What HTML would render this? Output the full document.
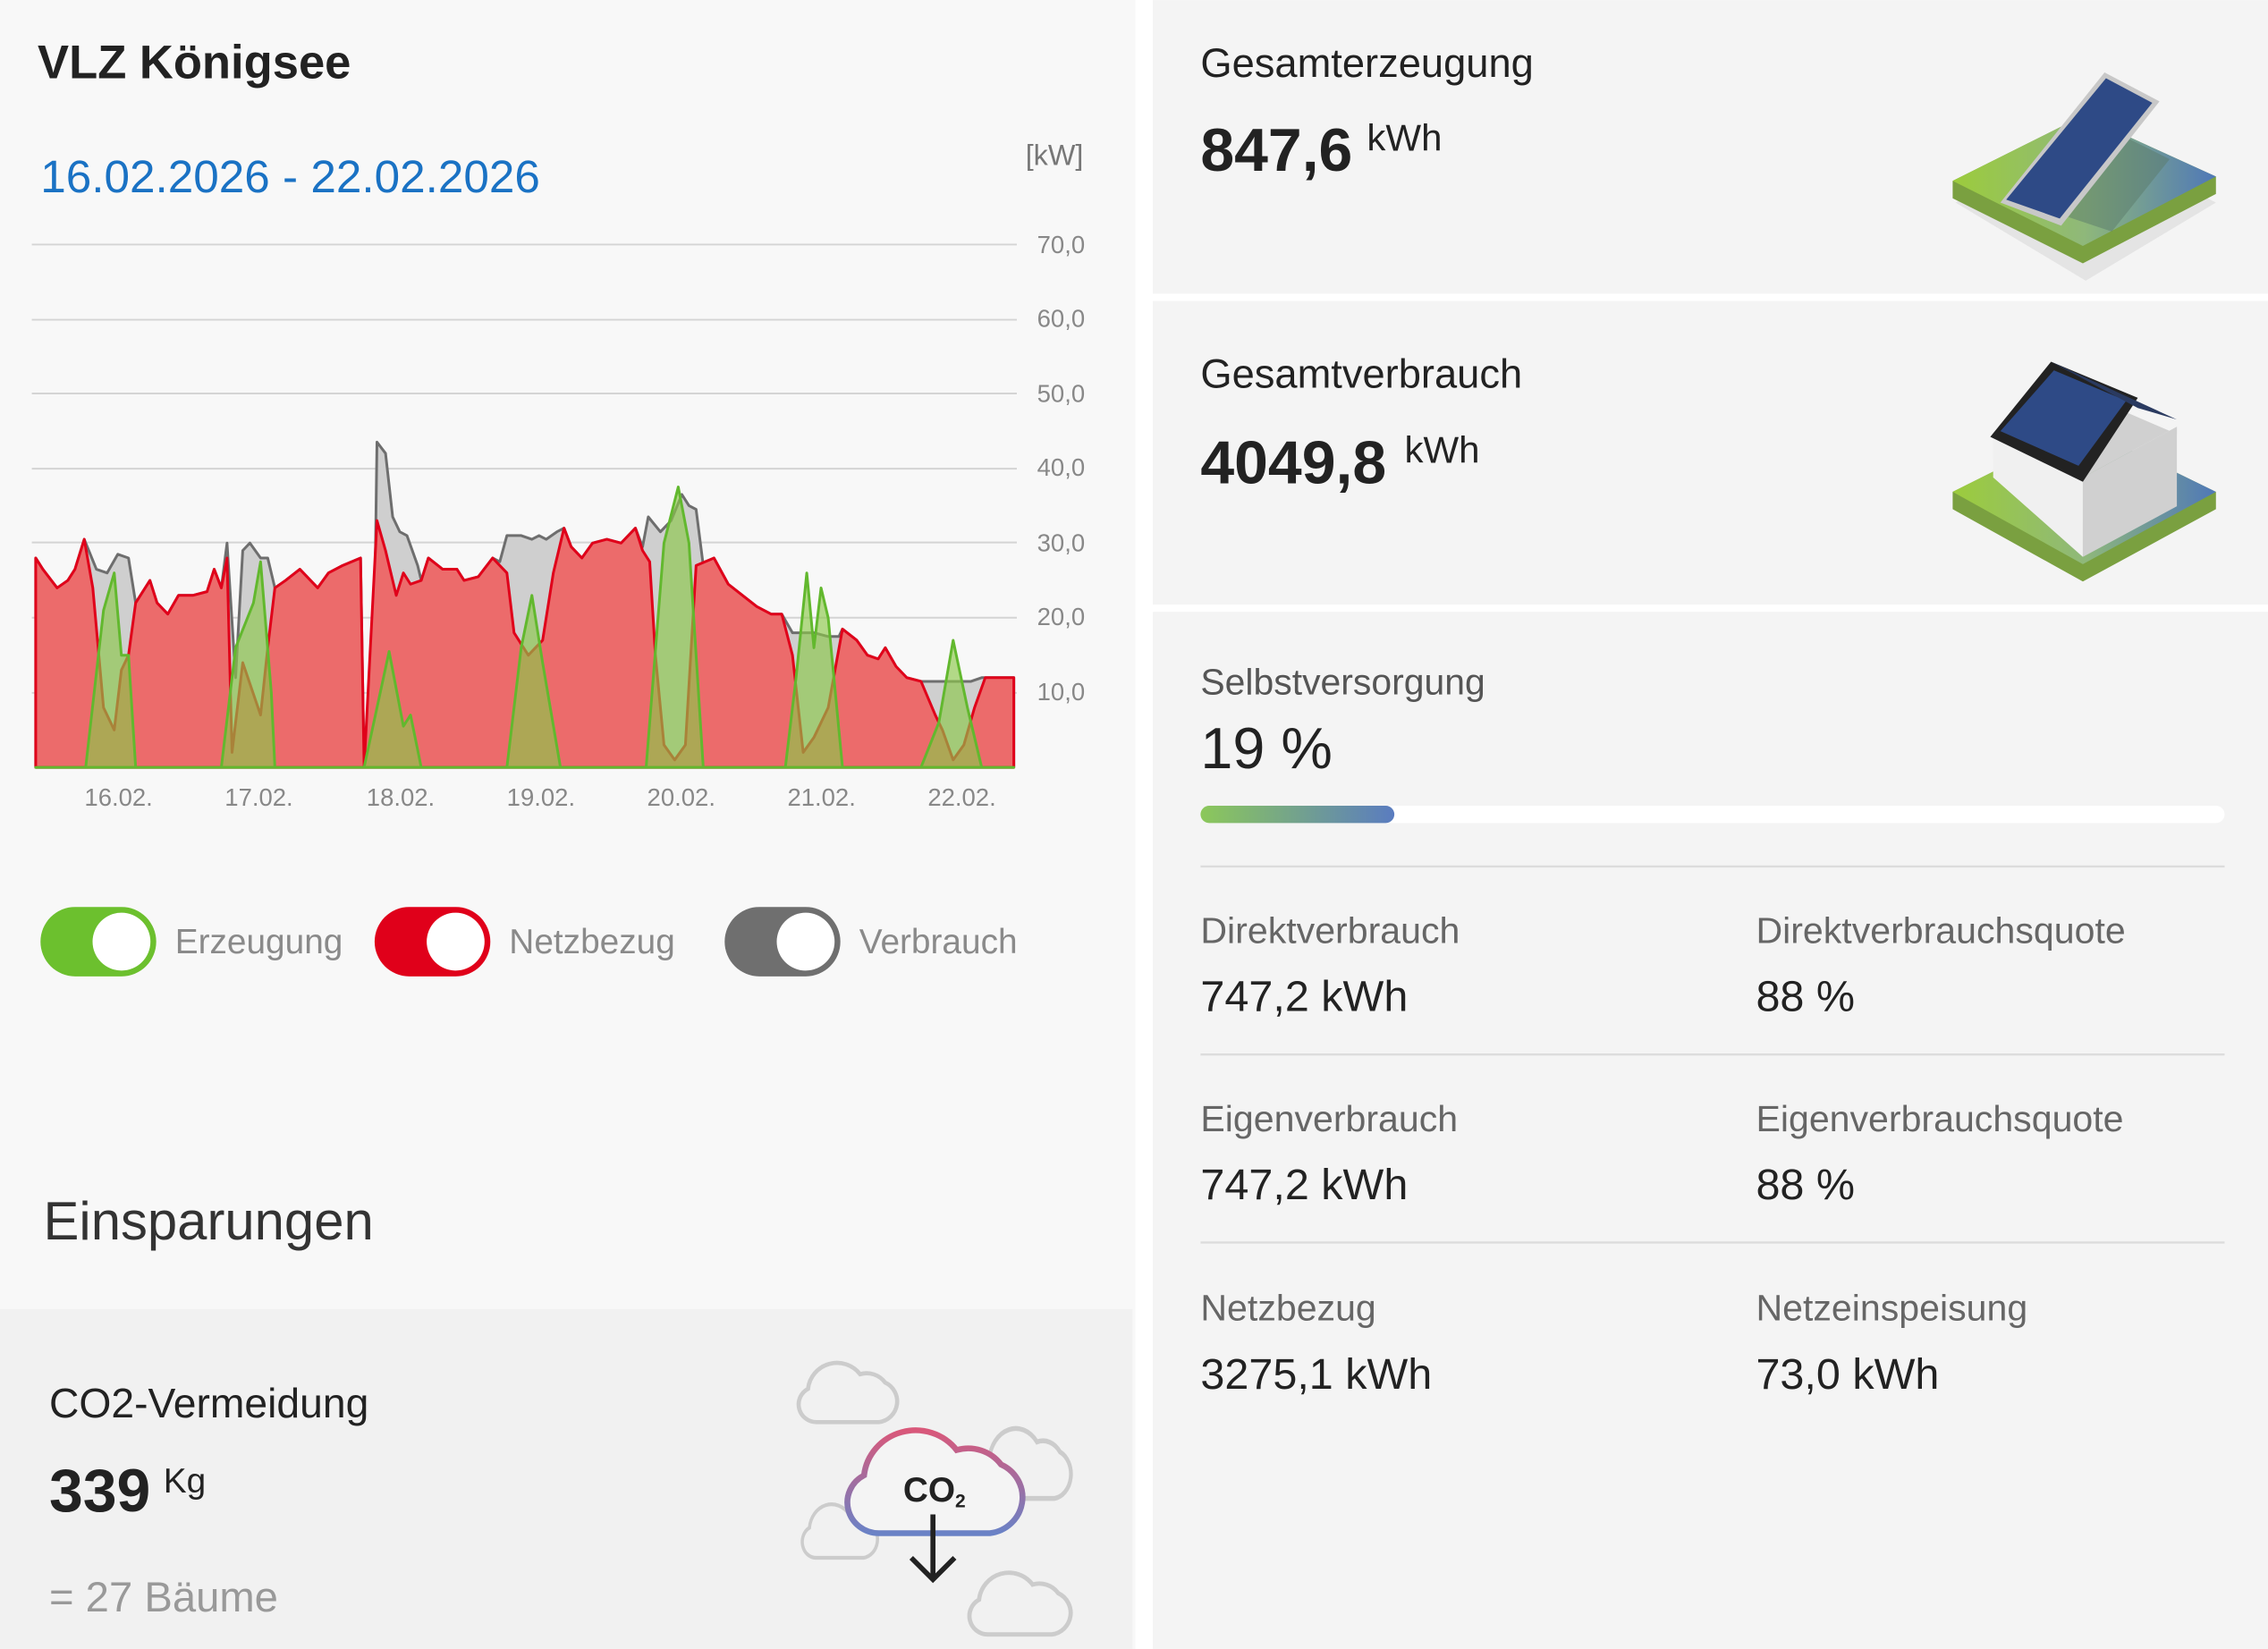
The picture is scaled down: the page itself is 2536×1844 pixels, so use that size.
<!DOCTYPE html>
<html><head><meta charset="utf-8"><style>
html,body{margin:0;padding:0;background:#fff;}
svg{display:block;font-family:"Liberation Sans",sans-serif;}
</style></head><body>
<svg width="2536" height="1844" viewBox="0 0 1568 1140" xmlns="http://www.w3.org/2000/svg">
<defs>
<linearGradient id="plat" x1="0" x2="1" y1="0" y2="0"><stop offset="0" stop-color="#9ccc3c"/><stop offset="0.5" stop-color="#8fb87a"/><stop offset="1" stop-color="#4f78b8"/></linearGradient>
<linearGradient id="bar" x1="0" x2="1"><stop offset="0" stop-color="#8cc85a"/><stop offset="1" stop-color="#5a7cc0"/></linearGradient>
<linearGradient id="cg" x1="0" x2="0" y1="0" y2="1"><stop offset="0" stop-color="#d9587a"/><stop offset="1" stop-color="#6a82c6"/></linearGradient>
<path id="cloud" d="M20,60 H80 A20,20 0 0 0 86,22 A22,22 0 0 0 62,14 A28,28 0 0 0 12,28 A17,17 0 0 0 20,60 Z"/>
</defs>
<rect x="0" y="0" width="1568" height="1140" fill="#fff"/>
<rect x="0" y="0" width="785" height="1140" fill="#f8f8f8"/>
<rect x="0" y="905" width="783" height="235" fill="#f1f1f1"/>
<rect x="797" y="0" width="771" height="203" fill="#f4f4f4"/>
<rect x="797" y="208" width="771" height="210" fill="#f4f4f4"/>
<rect x="797" y="423" width="771" height="717" fill="#f4f4f4"/>

<text x="26" y="54" font-size="32.5" font-weight="bold" fill="#222">VLZ Königsee</text>
<text x="28" y="133" font-size="31.7" fill="#1a72c4">16.02.2026 - 22.02.2026</text>
<text x="709" y="114" font-size="20" fill="#777">[kW]</text>

<g stroke="#d4d4d4" stroke-width="1.2">
<line x1="22" x2="703" y1="169" y2="169"/><line x1="22" x2="703" y1="221" y2="221"/>
<line x1="22" x2="703" y1="272" y2="272"/><line x1="22" x2="703" y1="324" y2="324"/>
<line x1="22" x2="703" y1="375" y2="375"/><line x1="22" x2="703" y1="427" y2="427"/>
<line x1="22" x2="703" y1="479" y2="479"/>
</g>
<g font-size="17" fill="#888">
<text x="717" y="175">70,0</text><text x="717" y="226">60,0</text><text x="717" y="278">50,0</text>
<text x="717" y="329">40,0</text><text x="717" y="381">30,0</text><text x="717" y="432">20,0</text>
<text x="717" y="484">10,0</text>
</g>
<g font-size="17" fill="#888" text-anchor="middle">
<text x="82" y="557">16.02.</text><text x="179" y="557">17.02.</text><text x="277" y="557">18.02.</text>
<text x="374" y="557">19.02.</text><text x="471" y="557">20.02.</text><text x="568" y="557">21.02.</text><text x="665" y="557">22.02.</text>
</g>

<g transform="translate(0,530.5) scale(0.4936,-5.17)">
<path fill="#cfcfcf" stroke="#6e6e6e" stroke-width="3" vector-effect="non-scaling-stroke" stroke-linejoin="round"
d="M50,0 L50,28 60,26.5 80,24 95,25 105,26.5 118,30.5 135,26.5 150,26 165,28.5 180,28 190,22 210,25 220,22 235,20.5 250,23 270,23 290,23.5 300,26.5 310,24 318,30 330,12 340,29 350,30 365,28 375,28 385,24 400,25 420,26.5 445,24 460,26 480,27 505,28 510,0 522,2 528,43.5 540,42 550,33.5 560,31.5 570,31 585,27 590,25 600,28 620,26.5 640,26.5 650,25 670,25.5 690,28 700,27.5 710,31 730,31 745,30.5 755,31 765,30.5 780,31.5 790,32 800,29.5 815,28 830,30 850,30.5 870,30 890,32 900,29.5 908,33.5 925,31.5 940,33 955,36.5 965,35 975,34.5 985,27 1000,28 1020,24.5 1040,23 1060,21.5 1080,20.5 1095,20.5 1110,18 1125,18 1140,18 1160,17.5 1175,17.5 1180,18.5 1200,17 1215,15 1230,14.5 1240,16 1255,13.5 1270,12 1290,11.5 1310,11.5 1340,11.5 1360,11.5 1375,12 1420,12 L1420,0 Z"/>
<path fill="#ec6b6b" stroke="#e0001a" stroke-width="3" vector-effect="non-scaling-stroke" stroke-linejoin="round"
d="M50,0 L50,28 60,26.5 80,24 95,25 105,26.5 118,30.5 130,24 145,8 160,5 170,13 180,15 190,22 210,25 220,22 235,20.5 250,23 270,23 290,23.5 300,26.5 310,24 318,28 325,2 340,14 365,7 375,16 385,24 400,25 420,26.5 445,24 460,26 480,27 505,28 510,0 528,33 540,29 555,23 565,26 575,24.5 590,25 600,28 620,26.5 640,26.5 650,25 670,25.5 690,28 710,26 720,18 740,15 760,17 775,26 790,32 800,29.5 815,28 830,30 850,30.5 870,30 890,32 900,29 910,27.5 918,15 930,3 945,1 960,3 975,27 1000,28 1020,24.5 1040,23 1060,21.5 1080,20.5 1095,20.5 1110,15 1125,2 1140,4 1160,8 1180,18.5 1200,17 1215,15 1230,14.5 1240,16 1255,13.5 1270,12 1290,11.5 1310,7 1320,5 1335,1 1350,3 1365,8 1380,12 1420,12 L1420,0 Z"/>
<path fill="#8cc84a" fill-opacity="0.65" stroke="#62b82e" stroke-width="3" vector-effect="non-scaling-stroke" stroke-linejoin="round"
d="M50,0 L120,0 145,21 160,26 170,15 180,15 190,0 310,0 330,16 355,22 365,27.5 380,10 385,0 510,0 545,15.5 565,5.5 575,7 590,0 710,0 730,16 745,23 760,14 785,0 905,0 930,30 950,37.5 965,30 985,0 1100,0 1115,12 1130,26 1140,16 1150,24 1160,20 1180,0 1290,0 1315,6 1335,17 1355,8 1375,0 L1420,0 Z"/>
</g>

<rect x="28" y="627" width="80" height="48" rx="24" fill="#6cc02e"/><circle cx="84" cy="651" r="20" fill="#fff"/>
<rect x="259" y="627" width="80" height="48" rx="24" fill="#e0001a"/><circle cx="315" cy="651" r="20" fill="#fff"/>
<rect x="501" y="627" width="80" height="48" rx="24" fill="#6f6f6f"/><circle cx="557" cy="651" r="20" fill="#fff"/>
<g font-size="24" fill="#8a8a8a"><text x="121" y="659">Erzeugung</text><text x="352" y="659">Netzbezug</text><text x="594" y="659">Verbrauch</text></g>

<text x="30" y="857" font-size="37" fill="#333">Einsparungen</text>
<text x="34" y="980" font-size="28.6" fill="#222">CO2-Vermeidung</text>
<text x="34" y="1045" font-size="42" font-weight="bold" fill="#222">339</text>
<text x="113" y="1032" font-size="24" fill="#222">Kg</text>
<text x="34" y="1114" font-size="29.2" fill="#999">= 27 Bäume</text>

<g fill="none" stroke="#cccccc" stroke-width="4">
<use href="#cloud" transform="translate(550,940) scale(0.72,0.72)"/>
<use href="#cloud" transform="translate(676,985) scale(0.66,0.85)"/>
<use href="#cloud" transform="translate(553,1038) scale(0.55,0.65)"/>
<use href="#cloud" transform="translate(668,1085) scale(0.74,0.75)"/>
</g>
<use href="#cloud" transform="translate(582,985) scale(1.28,1.25)" fill="#f4f4f4" stroke="url(#cg)" stroke-width="3.2"/>
<text x="646" y="1038" font-size="24" font-weight="bold" fill="#222" text-anchor="middle">CO<tspan font-size="13" dy="4">2</tspan></text>
<g stroke="#222" stroke-width="3.5" fill="none"><line x1="645" y1="1047" x2="645" y2="1090"/><polyline points="630,1077 645,1092 660,1077"/></g>

<text x="830" y="53" font-size="28" fill="#222">Gesamterzeugung</text>
<text x="830" y="118" font-size="42" font-weight="bold" fill="#222">847,6</text>
<text x="945" y="104" font-size="26" fill="#222">kWh</text>
<text x="830" y="268" font-size="28" fill="#222">Gesamtverbrauch</text>
<text x="830" y="334" font-size="42" font-weight="bold" fill="#222">4049,8</text>
<text x="971" y="320" font-size="26" fill="#222">kWh</text>

<text x="830" y="480" font-size="25.3" fill="#555">Selbstversorgung</text>
<text x="830" y="531" font-size="40" fill="#222">19 %</text>
<rect x="830" y="557" width="708" height="12" rx="6" fill="#fff"/>
<rect x="830" y="557" width="134" height="12" rx="6" fill="url(#bar)"/>

<g stroke="#dcdcdc" stroke-width="1.5"><line x1="830" x2="1538" y1="599" y2="599"/><line x1="830" x2="1538" y1="729" y2="729"/><line x1="830" x2="1538" y1="859" y2="859"/></g>
<g font-size="25.4" fill="#666">
<text x="830" y="652">Direktverbrauch</text><text x="1214" y="652">Direktverbrauchsquote</text>
<text x="830" y="782">Eigenverbrauch</text><text x="1214" y="782">Eigenverbrauchsquote</text>
<text x="830" y="913">Netzbezug</text><text x="1214" y="913">Netzeinspeisung</text>
</g>
<g font-size="30" fill="#222">
<text x="830" y="699">747,2 kWh</text><text x="1214" y="699">88 %</text>
<text x="830" y="829">747,2 kWh</text><text x="1214" y="829">88 %</text>
<text x="830" y="960">3275,1 kWh</text><text x="1214" y="960">73,0 kWh</text>
</g>

<polygon points="1352,140 1442,94 1532,140 1442,194" fill="#d8d8d8" opacity="0.6"/>
<polygon points="1350,125 1440,80 1532,122 1532,134 1440,182 1350,137" fill="#7aa040"/>
<polygon points="1350,125 1440,80 1532,122 1440,170" fill="url(#plat)"/>
<polygon points="1430,150 1470,95 1500,110 1460,160" fill="#5a7a6a" opacity="0.5"/>
<polygon points="1383,140 1455,50 1493,70 1425,156" fill="#c8c8c8"/>
<polygon points="1387,138 1456,54 1488,71 1424,151" fill="#2e4a86"/>
<polygon points="1350,340 1440,295 1532,340 1532,352 1440,402 1350,352" fill="#7aa040"/>
<polygon points="1350,340 1440,295 1532,340 1440,390" fill="url(#plat)"/>
<polygon points="1378,330 1378,300 1440,330 1440,385" fill="#f0f0f0"/>
<polygon points="1440,330 1505,295 1505,350 1440,385" fill="#d0d0d0"/>
<polygon points="1440,330 1470,285 1505,300 1505,295" fill="#d0d0d0"/>
<polygon points="1376,302 1418,250 1478,275 1440,333" fill="#222"/>
<polygon points="1383,298 1420,256 1470,277 1437,322" fill="#2e4a86"/>
<polygon points="1418,250 1505,290 1478,282" fill="#2a3a60"/>
</svg>
</body></html>
